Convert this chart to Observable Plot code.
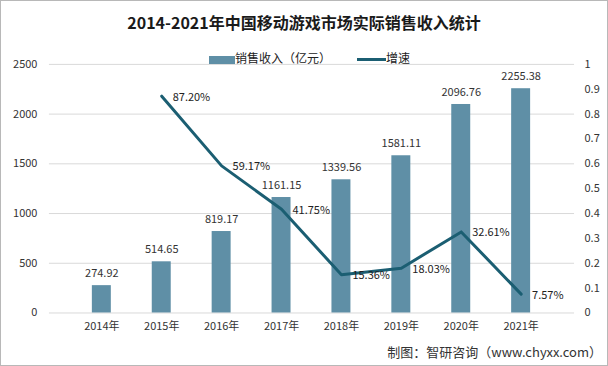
<!DOCTYPE html>
<html><head><meta charset="utf-8">
<script src="https://cdn.jsdelivr.net/npm/d3@7"></script>
<script src="https://cdn.jsdelivr.net/npm/@observablehq/plot@0.6"></script>
<style>
body{margin:0;background:#fff;}
#wrap{position:relative;width:608px;height:366px;box-sizing:border-box;border:1px solid #b8b8b8;overflow:hidden;font-family:"Noto Sans CJK SC","DejaVu Sans",sans-serif;}
#title{position:absolute;left:0;top:7px;width:606px;text-align:center;font-size:16px;font-weight:bold;color:#1a1a1a;line-height:28px;}
#legend{position:absolute;top:48px;left:208px;font-size:12px;color:#222;line-height:18px;white-space:nowrap;}
#legend span.sw{display:inline-block;vertical-align:middle;}
#footer{position:absolute;right:5px;top:342px;font-size:13px;color:#333;line-height:18px;}
#chart{position:absolute;left:-1px;top:-1px;}
</style></head>
<body>
<div id="wrap">
<div id="chart"></div>
<div id="title">2014-2021年中国移动游戏市场实际销售收入统计</div>
<div id="legend"><span class="sw" style="width:26px;height:8px;background:#5f8fa6;"></span><span>销售收入（亿元）</span><span class="sw" style="width:29px;height:3px;background:#1b5e72;margin-left:26px;"></span><span>增速</span></div>
<div id="footer">制图：智研咨询（www.chyxx.com）</div>
</div>
<script>
const years = ["2014年","2015年","2016年","2017年","2018年","2019年","2020年","2021年"];
const revenue = [274.92, 514.65, 819.17, 1161.15, 1339.56, 1581.11, 2096.76, 2255.38];
const growth = [null, 0.8720, 0.5917, 0.4175, 0.1536, 0.1803, 0.3261, 0.0757];
const leftTicks = [0, 500, 1000, 1500, 2000, 2500];
const rightTicks = [0, 0.1, 0.2, 0.3, 0.4, 0.5, 0.6, 0.7, 0.8, 0.9, 1];

const data = years.map((y, i) => ({year: y, rev: revenue[i], g: growth[i]}));
const gData = data.filter(d => d.g != null);
const YMAX = 2500;

const chart = Plot.plot({
  width: 608, height: 366,
  marginTop: 64, marginBottom: 53, marginLeft: 49, marginRight: 33,
  style: {fontFamily: '"Noto Sans CJK SC","DejaVu Sans",sans-serif', fontSize: "11px", color: "#333", background: "transparent"},
  x: {domain: years, padding: 0.68, label: null},
  y: {domain: [0, YMAX], label: null},
  marks: [
    Plot.gridY(leftTicks, {stroke: "#d9d9d9", strokeOpacity: 1, strokeWidth: 1}),
    Plot.axisY(leftTicks, {anchor: "left", tickSize: 0, tickPadding: 12, label: null, fontSize: 11, tickFormat: d => String(d)}),
    Plot.axisY(rightTicks.map(t => t * YMAX), {anchor: "right", tickSize: 0, tickPadding: 10, label: null, fontSize: 11, tickFormat: d => String(+(d / YMAX).toFixed(1))}),
    Plot.axisX({tickSize: 0, tickPadding: 9, label: null, fontSize: 11}),
    Plot.barY(data, {x: "year", y: "rev", fill: "#5f8fa6"}),
    Plot.text(data, {x: "year", y: "rev", text: d => d.rev.toFixed(2), dy: -12, fill: "#333", fontSize: 11}),
    Plot.line(gData, {x: "year", y: d => d.g * YMAX, stroke: "#1b5e72", strokeWidth: 3, strokeLinejoin: "round"}),
    Plot.text(gData, {x: "year", y: d => d.g * YMAX, text: d => (d.g * 100).toFixed(2) + "%", dx: 11, dy: 1, textAnchor: "start", fill: "#222", fontSize: 11})
  ]
});
document.getElementById("chart").appendChild(chart);
</script>
</body></html>
